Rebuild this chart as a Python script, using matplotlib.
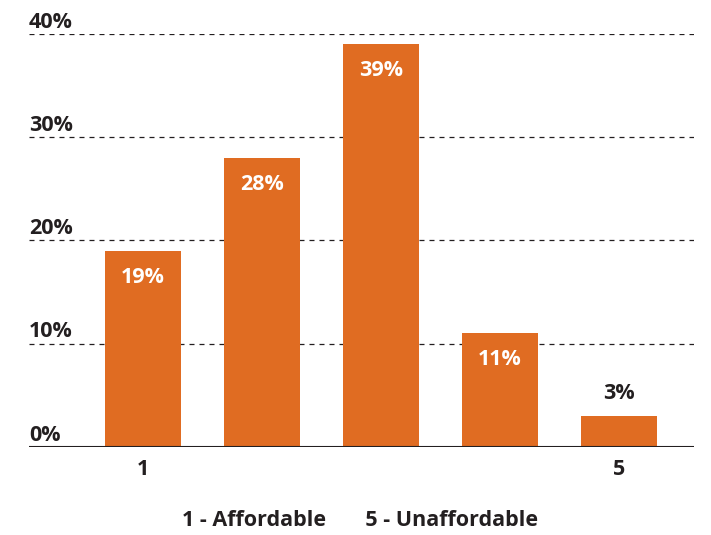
import matplotlib.pyplot as plt
from matplotlib import transforms

plt.rcParams['font.family'] = ['Open Sans', 'DejaVu Sans']

categories = [1, 2, 3, 4, 5]
values = [19, 28, 39, 11, 3]
tick_labels = ["1", "", "", "", "5"]
y_ticks = [0, 10, 20, 30, 40]

orange = "#E06C22"
dark = "#231F20"
fs = 15.5

fig = plt.figure(figsize=(7.11, 5.35), dpi=100)
ax = fig.add_axes([0.0408, 0.1645, 0.935, 0.772])

x = range(len(categories))
bars = ax.bar(x, values, width=0.64, color=orange, zorder=2)

ax.set_xlim(-0.958, 4.63)
ax.set_ylim(0, 40)

for yv in y_ticks[1:]:
    ax.axhline(yv, color=dark, linestyle=(0, (4, 4)), linewidth=0.9, zorder=1)
ax.axhline(0, color=dark, linewidth=1.5, zorder=3)

trans = transforms.blended_transform_factory(ax.transAxes, ax.transData)
offset = transforms.ScaledTranslation(0, 1 / 72, fig.dpi_scale_trans)
for yv in y_ticks:
    ax.text(0, yv, f"{yv}%", transform=trans + offset, ha="left", va="bottom",
            fontsize=fs, fontweight="bold", color=dark)

for i, v in enumerate(values):
    if v > 5:
        ax.annotate(f"{v}%", (i, v), xytext=(0, -19), textcoords="offset points",
                    ha="center", va="center", fontsize=fs, fontweight="bold", color="white")
    else:
        ax.annotate(f"{v}%", (i, v), xytext=(0, 16), textcoords="offset points",
                    ha="center", va="center", fontsize=fs, fontweight="bold", color=dark)

ax.set_xticks(list(x))
ax.set_xticklabels(tick_labels, fontsize=fs, fontweight="bold", color=dark)
ax.tick_params(axis="x", length=0, pad=9)
ax.set_yticks([])
for s in ax.spines.values():
    s.set_visible(False)

fig.text(0.506, 0.027, "1 - Affordable       5 - Unaffordable", ha="center", va="center",
         fontsize=fs, fontweight="bold", color=dark)

fig.savefig("out.png", dpi=100)
